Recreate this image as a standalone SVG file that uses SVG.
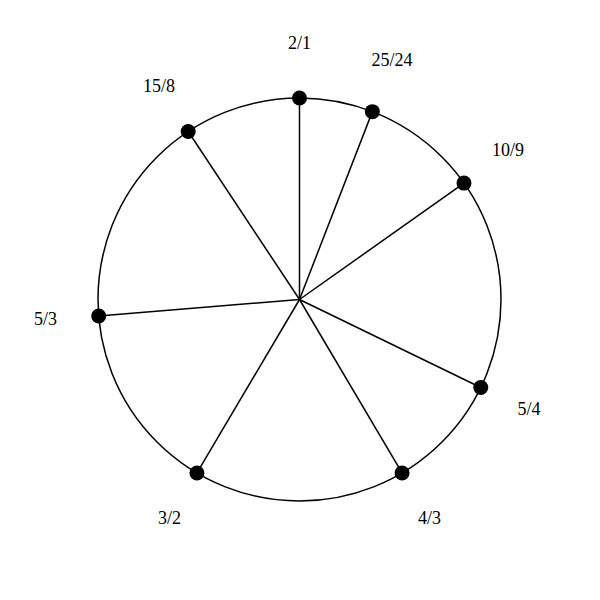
<svg xmlns="http://www.w3.org/2000/svg" width="600" height="600" viewBox="0 0 600 600">
<style>
.ring{fill:none;stroke:#000;stroke-width:1.5}
.spoke{stroke:#000;stroke-width:1.5}
.dot{fill:#000}
.lbl{font-family:"Liberation Serif","Times New Roman",serif;font-size:18px;fill:#000;text-anchor:middle}
</style>
<rect width="600" height="600" fill="#fff"/>
<circle class="ring" cx="299.5" cy="299.5" r="201.5"/>
<g id="connectors">
<line class="spoke" x1="299.5" y1="299.5" x2="299.5" y2="98"/>
<line class="spoke" x1="299.5" y1="299.5" x2="372.36" y2="111.64"/>
<line class="spoke" x1="299.5" y1="299.5" x2="463.98" y2="183.11"/>
<line class="spoke" x1="299.5" y1="299.5" x2="480.77" y2="387.49"/>
<line class="spoke" x1="299.5" y1="299.5" x2="402.05" y2="472.95"/>
<line class="spoke" x1="299.5" y1="299.5" x2="196.95" y2="472.95"/>
<line class="spoke" x1="299.5" y1="299.5" x2="98.68" y2="315.98"/>
<line class="spoke" x1="299.5" y1="299.5" x2="188.21" y2="131.51"/>
</g>
<g id="n-2-1"><circle class="dot" cx="299.5" cy="98" r="7.5"/><text class="lbl" x="299.5" y="49">2/1</text></g>
<g id="n-25-24"><circle class="dot" cx="372.36" cy="111.64" r="7.5"/><text class="lbl" x="391.9" y="66.3">25/24</text></g>
<g id="n-10-9"><circle class="dot" cx="463.98" cy="183.11" r="7.5"/><text class="lbl" x="508.1" y="156.4">10/9</text></g>
<g id="n-5-4"><circle class="dot" cx="480.77" cy="387.49" r="7.5"/><text class="lbl" x="529" y="415.3">5/4</text></g>
<g id="n-4-3"><circle class="dot" cx="402.05" cy="472.95" r="7.5"/><text class="lbl" x="429.4" y="523.6">4/3</text></g>
<g id="n-3-2"><circle class="dot" cx="196.95" cy="472.95" r="7.5"/><text class="lbl" x="169.6" y="523.6">3/2</text></g>
<g id="n-5-3"><circle class="dot" cx="98.68" cy="315.98" r="7.5"/><text class="lbl" x="45.6" y="324.6">5/3</text></g>
<g id="n-15-8"><circle class="dot" cx="188.21" cy="131.51" r="7.5"/><text class="lbl" x="159" y="91.5">15/8</text></g>
</svg>
